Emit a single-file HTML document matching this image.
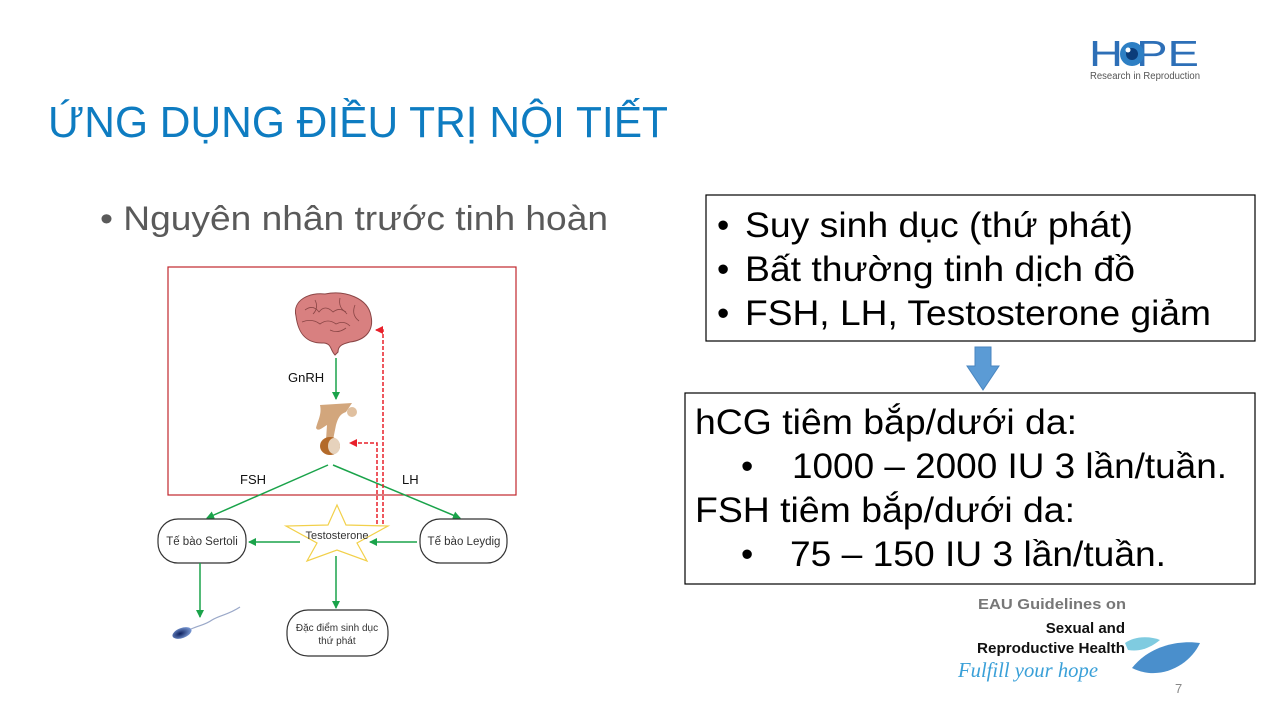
<!DOCTYPE html>
<html><head><meta charset="utf-8"><style>
html,body{margin:0;padding:0;background:#fff;}
svg{display:block;font-family:"Liberation Sans",Arial,sans-serif;}
</style></head><body>
<svg width="1280" height="720" viewBox="0 0 1280 720" xmlns="http://www.w3.org/2000/svg">
<defs>
<marker id="g" markerWidth="8" markerHeight="8" refX="7" refY="4" orient="auto" markerUnits="userSpaceOnUse"><path d="M0,0 L8,4 L0,8 z" fill="#1aa34a"/></marker>
<marker id="r" markerWidth="8" markerHeight="8" refX="7" refY="4" orient="auto" markerUnits="userSpaceOnUse"><path d="M0,0 L8,4 L0,8 z" fill="#e8202a"/></marker>
<radialGradient id="sp" cx="0.4" cy="0.5" r="0.6"><stop offset="0" stop-color="#0c1f5c"/><stop offset="1" stop-color="#7a9ad6"/></radialGradient>
</defs>
<text x="1089" y="66" font-size="36" fill="#2d6fb7" textLength="110" lengthAdjust="spacingAndGlyphs">H  PE</text>
<circle cx="1132" cy="54" r="12" fill="#2d7fc4"/><circle cx="1132" cy="54" r="6" fill="#0b3d7a"/><circle cx="1128" cy="50" r="2.5" fill="#fff"/>
<text x="1090" y="79" font-size="10" fill="#555" textLength="110" lengthAdjust="spacingAndGlyphs">Research in Reproduction</text>
<text x="48" y="137" font-size="44" fill="#0e7cc1" textLength="620" lengthAdjust="spacingAndGlyphs">ỨNG DỤNG ĐIỀU TRỊ NỘI TIẾT</text>
<text x="100" y="230" font-size="34" fill="#5a5a5a" textLength="508" lengthAdjust="spacingAndGlyphs">• Nguyên nhân trước tinh hoàn</text>
<rect x="168" y="267" width="348" height="228" fill="none" stroke="#c0272d" stroke-width="1.2"/>
<path d="M296,316 C292,300 310,292 325,294 C345,290 368,298 371,316 C374,330 366,340 350,342 C342,344 338,346 338,352 L335,355 C330,350 332,344 324,343 C305,344 298,332 296,316 z" fill="#d88080" stroke="#8a4545" stroke-width="1"/>
<path d="M305,310 q8,-6 14,2 q6,-8 14,0 q8,-6 14,2 M302,322 q10,-4 18,2 q8,-6 16,0 q8,-4 14,2 M315,300 q4,8 -2,14 M340,298 q-2,10 6,14 M355,305 q-4,10 4,16 M330,330 q8,4 16,-2" fill="none" stroke="#8a4545" stroke-width="0.8"/>
<text x="288" y="382" font-size="13" fill="#111">GnRH</text>
<line x1="336" y1="358" x2="336" y2="399" stroke="#1aa34a" stroke-width="1.5" marker-end="url(#g)"/>
<path d="M320,405 L352,403 L346,412 C340,414 338,418 336,425 L333,440 L326,440 L327,425 C322,428 318,432 316,428 C318,420 322,414 320,405 z" fill="#d2a67c"/>
<circle cx="352" cy="412" r="5" fill="#e0c0a0"/>
<ellipse cx="330" cy="446" rx="10" ry="9" fill="#b36a2a"/><ellipse cx="334" cy="446" rx="6" ry="8" fill="#e6d2bc"/>
<text x="240" y="484" font-size="13" fill="#111">FSH</text>
<text x="402" y="484" font-size="13" fill="#111">LH</text>
<line x1="328" y1="465" x2="207" y2="518" stroke="#1aa34a" stroke-width="1.5" marker-end="url(#g)"/>
<line x1="333" y1="465" x2="460" y2="518" stroke="#1aa34a" stroke-width="1.5" marker-end="url(#g)"/>
<rect x="158" y="519" width="88" height="44" rx="20" fill="#fff" stroke="#333" stroke-width="1.2"/>
<text x="202" y="545" font-size="11.5" fill="#333" text-anchor="middle">Tế bào Sertoli</text>
<rect x="420" y="519" width="87" height="44" rx="20" fill="#fff" stroke="#333" stroke-width="1.2"/>
<text x="464" y="545" font-size="11.5" fill="#333" text-anchor="middle">Tế bào Leydig</text>
<rect x="287" y="610" width="101" height="46" rx="21" fill="#fff" stroke="#333" stroke-width="1.2"/>
<text x="337" y="631" font-size="10" fill="#333" text-anchor="middle">Đặc điểm sinh dục</text>
<text x="337" y="644" font-size="10" fill="#333" text-anchor="middle">thứ phát</text>
<polygon points="337,505 346,525 388,526 357,543 367,561 337,550 307,561 317,543 286,526 328,525" fill="#fff" stroke="#f2d04a" stroke-width="1.2"/>
<text x="337" y="539" font-size="11" fill="#333" text-anchor="middle">Testosterone</text>
<line x1="300" y1="542" x2="249" y2="542" stroke="#1aa34a" stroke-width="1.5" marker-end="url(#g)"/>
<line x1="417" y1="542" x2="370" y2="542" stroke="#1aa34a" stroke-width="1.5" marker-end="url(#g)"/>
<line x1="336" y1="556" x2="336" y2="608" stroke="#1aa34a" stroke-width="1.5" marker-end="url(#g)"/>
<line x1="200" y1="563" x2="200" y2="617" stroke="#1aa34a" stroke-width="1.5" marker-end="url(#g)"/>
<polyline points="383,524 383,330 376,330" fill="none" stroke="#e8202a" stroke-width="1.5" stroke-dasharray="4,2" marker-end="url(#r)"/>
<polyline points="377,524 377,443 350,443" fill="none" stroke="#e8202a" stroke-width="1.5" stroke-dasharray="4,2" marker-end="url(#r)"/>
<ellipse cx="182" cy="633" rx="10" ry="5" transform="rotate(-20 182 633)" fill="url(#sp)"/>
<path d="M191,629 C200,625 205,625 212,620 C220,615 228,615 240,607" fill="none" stroke="#9aa8c8" stroke-width="1.2"/>
<rect x="706" y="195" width="549" height="146" fill="#fff" stroke="#000" stroke-width="1.2"/>
<text font-size="35" fill="#000">
<tspan x="717" y="237">•</tspan><tspan x="745" y="237" textLength="388" lengthAdjust="spacingAndGlyphs">Suy sinh dục (thứ phát)</tspan>
<tspan x="717" y="281">•</tspan><tspan x="745" y="281" textLength="390" lengthAdjust="spacingAndGlyphs">Bất thường tinh dịch đồ</tspan>
<tspan x="717" y="325">•</tspan><tspan x="745" y="325" textLength="466" lengthAdjust="spacingAndGlyphs">FSH, LH, Testosterone giảm</tspan>
</text>
<path d="M975,347 L991,347 L991,366 L999,366 L983,390 L967,366 L975,366 z" fill="#5b9bd5" stroke="#4a86c0" stroke-width="1"/>
<rect x="685" y="393" width="570" height="191" fill="#fff" stroke="#000" stroke-width="1.2"/>
<text font-size="35" fill="#000">
<tspan x="695" y="434" textLength="382" lengthAdjust="spacingAndGlyphs">hCG tiêm bắp/dưới da:</tspan>
<tspan x="741" y="478">•</tspan><tspan x="792" y="478" textLength="435" lengthAdjust="spacingAndGlyphs">1000 – 2000 IU 3 lần/tuần.</tspan>
<tspan x="695" y="522" textLength="380" lengthAdjust="spacingAndGlyphs">FSH tiêm bắp/dưới da:</tspan>
<tspan x="741" y="566">•</tspan><tspan x="790" y="566" textLength="376" lengthAdjust="spacingAndGlyphs">75 – 150 IU 3 lần/tuần.</tspan>
</text>
<text x="978" y="609" font-size="15" font-weight="bold" fill="#777" textLength="148" lengthAdjust="spacingAndGlyphs">EAU Guidelines on</text>
<text x="1125" y="633" font-size="15" font-weight="bold" fill="#111" text-anchor="end">Sexual and</text>
<text x="977" y="653" font-size="15" font-weight="bold" fill="#111" textLength="148" lengthAdjust="spacingAndGlyphs">Reproductive Health</text>
<text x="958" y="677" font-size="21" font-style="italic" fill="#3aa0d8" font-family="Liberation Serif,serif" textLength="140" lengthAdjust="spacingAndGlyphs">Fulfill your hope</text>
<path d="M1125,643 C1135,636 1150,636 1160,640 C1150,648 1140,652 1128,650 z" fill="#7fcbe0"/>
<path d="M1132,668 C1150,645 1180,640 1200,643 C1190,665 1160,682 1132,668 z" fill="#4a8fcc"/>
<text x="1175" y="693" font-size="13" fill="#888">7</text>
</svg>
</body></html>
